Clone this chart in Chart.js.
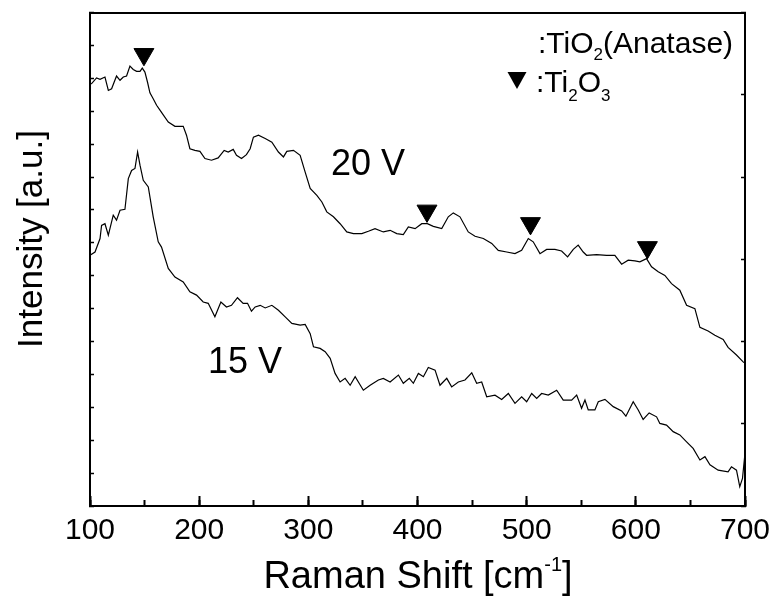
<!DOCTYPE html>
<html>
<head>
<meta charset="utf-8">
<script src="https://cdn.jsdelivr.net/npm/chart.js@4/dist/chart.umd.min.js"></script>
<style>
  html, body { margin: 0; padding: 0; background: #fff; }
  #wrap { width: 773px; height: 601px; }
</style>
</head>
<body>
<div id="wrap"><canvas id="c" width="773" height="601"></canvas></div>
<script>
// ---- data ----
const xTickValues = [100, 200, 300, 400, 500, 600, 700];

const ramanShift20 = [100,101.5,106.0,109.2,113.7,116.8,119.8,124.3,127.5,130.5,
  133.5,136.6,139.6,142.7,145.8,147.9,150.3,152.7,154.9,157.9,
  161.0,164.1,167.1,171.7,177.8,185.4,188.4,191.5,196.1,200.7,
  205.3,211.3,217.4,222.9,226.6,231.2,234.2,238.8,243.3,246.7,
  249.7,254.3,260.5,266.6,272.6,277.2,280.3,286.4,292.5,297.1,
  301.7,307.8,312.4,316.9,323.0,329.1,335.2,341.3,349.0,355.0,
  361.1,368.7,374.9,381.0,387.0,391.6,397.8,403.9,409.0,414.5,
  422.2,428.2,432.8,438.9,446.5,452.7,460.3,468.0,474.0,481.7,
  489.3,495.4,501.5,506.0,512.2,518.3,525.9,532.0,537.5,542.7,
  547.2,551.8,554.9,564.1,573.2,580.8,587.0,593.0,599.2,603.7,
  609.8,614.4,620.5,626.6,632.7,640.3,646.5,654.1,658.7,666.2,
  672.4,680.0,684.5,692.2,698.3,700];
const intensity20 = [12.82,12.84,13.01,12.97,13.04,12.63,12.68,13.07,12.94,13.04,
  13.07,13.37,13.27,13.21,13.21,13.31,13.19,12.88,12.56,12.38,
  12.18,12.03,11.89,11.67,11.54,11.54,11.27,10.86,10.81,10.78,
  10.56,10.51,10.58,10.81,10.76,10.84,10.66,10.56,10.68,10.86,
  11.21,11.27,11.17,11.06,10.76,10.61,10.78,10.81,10.66,10.15,
  9.65,9.44,9.24,8.94,8.79,8.58,8.33,8.28,8.28,8.35,
  8.43,8.33,8.38,8.28,8.25,8.48,8.43,8.58,8.58,8.50,
  8.43,8.79,8.91,8.79,8.33,8.20,8.13,7.98,7.77,7.72,
  7.67,7.77,8.13,8.03,7.67,7.80,7.80,7.75,7.57,7.80,
  7.93,7.72,7.62,7.64,7.62,7.62,7.35,7.47,7.45,7.42,
  7.52,7.27,7.12,7.01,6.76,6.56,6.10,6.00,5.43,5.32,
  5.19,5.06,4.82,4.59,4.38,4.34];

const ramanShift15 = [100,104.6,109.2,110.6,113.7,116.8,121.3,124.3,127.5,132.0,
  135.1,138.1,141.2,143.6,145.8,148.8,153.4,157.9,162.5,165.5,
  171.7,177.8,185.4,191.5,197.6,203.7,208.3,214.4,219.9,225.0,
  229.6,235.1,240.3,244.3,247.9,251.3,255.9,260.5,266.6,272.6,
  278.8,284.9,292.5,297.1,301.7,304.7,310.8,315.4,320.0,324.5,
  329.1,333.7,338.3,342.9,350.4,356.6,364.2,368.7,374.9,382.5,
  387.0,392.5,396.2,400.8,405.4,409.9,416.1,420.6,426.8,431.3,
  437.4,443.5,449.7,454.2,458.8,463.4,471.0,477.1,483.2,489.3,
  495.4,500.0,504.6,509.2,513.7,519.8,527.5,533.5,541.2,545.8,
  550.3,553.4,556.4,562.5,565.6,571.7,579.3,587.0,590.9,597.6,
  602.2,606.7,612.2,619.0,622.0,628.1,634.2,640.3,646.5,652.5,
  658.7,663.3,667.9,675.4,684.5,687.6,692.2,695.2,697.7,700];
const intensity15 = [7.62,7.72,8.13,8.53,8.58,8.23,8.84,8.69,8.99,9.02,
  9.95,10.20,10.26,10.76,10.36,9.90,9.70,8.79,8.03,7.87,
  7.22,6.96,6.81,6.51,6.41,6.20,6.16,5.75,6.20,6.05,
  6.10,6.33,6.16,6.16,5.92,6.05,6.10,6.02,6.10,5.95,
  5.75,5.55,5.50,5.52,5.24,4.84,4.79,4.69,4.49,4.03,
  3.77,3.88,3.67,3.93,3.52,3.67,3.83,3.88,3.77,3.98,
  3.73,3.88,3.73,4.03,3.93,4.21,4.13,3.67,3.88,3.62,
  3.77,3.83,4.05,3.73,3.77,3.32,3.37,3.24,3.42,3.12,
  3.32,3.17,3.42,3.27,3.42,3.37,3.52,3.22,3.22,3.37,
  2.97,3.22,2.92,2.92,3.17,3.24,3.02,2.89,2.73,3.17,
  2.92,2.63,2.83,2.71,2.51,2.46,2.26,2.16,1.95,1.75,
  1.40,1.50,1.25,1.09,1.04,1.19,1.09,0.59,0.84,1.61];

// Ti2O3 peak markers (inverted triangles)
const markerShift = [149.4, 408.7, 503.5, 610.6];
const markerIntensity = [13.73, 8.97, 8.59, 7.86];

const seriesLabels = ['20 V', '15 V'];

// ---- helpers ----
const FONT = '"Liberation Sans", Arial, Helvetica, sans-serif';
const toPts = (xs, ys) => xs.map((x, i) => ({ x: x, y: ys[i] }));

function drawRuns(ctx, x, baseline, runs, align) {
  let total = 0;
  runs.forEach(r => { ctx.font = r.size + 'px ' + FONT; r.w = ctx.measureText(r.t).width; total += r.w; });
  let cx = align === 'center' ? x - total / 2 : x;
  ctx.textAlign = 'left';
  ctx.textBaseline = 'alphabetic';
  runs.forEach(r => {
    ctx.font = r.size + 'px ' + FONT;
    ctx.fillText(r.t, cx, baseline + (r.dy || 0));
    cx += r.w;
  });
}

const textPlugin = {
  id: 'textPlugin',
  afterDraw(chart) {
    const ctx = chart.ctx;
    ctx.save();
    ctx.fillStyle = '#000';
    // y-axis title
    ctx.save();
    ctx.translate(42, 239);
    ctx.rotate(-Math.PI / 2);
    ctx.font = '35px ' + FONT;
    ctx.textAlign = 'center';
    ctx.textBaseline = 'alphabetic';
    ctx.fillText('Intensity [a.u.]', 0, 0);
    ctx.restore();
    // x-axis title with superscript
    drawRuns(ctx, 418, 588, [
      { t: 'Raman Shift [cm', size: 38 },
      { t: '-1', size: 20, dy: -17 },
      { t: ']', size: 38 }
    ], 'center');
    // series labels
    ctx.font = '36px ' + FONT;
    ctx.textAlign = 'left';
    ctx.fillText(seriesLabels[0], 331, 175);
    ctx.fillText(seriesLabels[1], 208, 373);
    // legend lines
    drawRuns(ctx, 538, 53, [
      { t: ':TiO', size: 30 },
      { t: '2', size: 17, dy: 7 },
      { t: '(Anatase)', size: 30 }
    ], 'left');
    drawRuns(ctx, 536, 92, [
      { t: ':Ti', size: 30 },
      { t: '2', size: 17, dy: 9 },
      { t: 'O', size: 30 },
      { t: '3', size: 17, dy: 9 }
    ], 'left');
    // legend triangle glyph
    ctx.beginPath();
    ctx.moveTo(507.5, 72);
    ctx.lineTo(526.5, 72);
    ctx.lineTo(517, 89);
    ctx.closePath();
    ctx.fill();
    ctx.restore();
  }
};

const zeroW = (s) => { s.width = 0; s.paddingTop = 0; s.paddingBottom = 0; };

new Chart(document.getElementById('c'), {
  type: 'line',
  data: {
    datasets: [
      {
        label: seriesLabels[0],
        data: toPts(ramanShift20, intensity20),
        borderColor: '#000', borderWidth: 1.2, pointRadius: 0, tension: 0, fill: false,
        xAxisID: 'x', yAxisID: 'y'
      },
      {
        label: seriesLabels[1],
        data: toPts(ramanShift15, intensity15),
        borderColor: '#000', borderWidth: 1.2, pointRadius: 0, tension: 0, fill: false,
        xAxisID: 'x', yAxisID: 'y'
      },
      {
        label: 'Ti2O3',
        data: toPts(markerShift, markerIntensity),
        showLine: false,
        pointStyle: 'triangle', pointRotation: 180, pointRadius: 11.5,
        pointBackgroundColor: '#000', pointBorderColor: '#000', pointBorderWidth: 1,
        xAxisID: 'x', yAxisID: 'y'
      }
    ]
  },
  options: {
    responsive: false,
    animation: false,
    devicePixelRatio: 1,
    layout: { padding: { left: 0, right: 28, top: 12, bottom: 0 } },
    plugins: { legend: { display: false }, tooltip: { enabled: false }, title: { display: false } },
    scales: {
      x: {
        type: 'linear', position: 'bottom', weight: 1,
        min: 100, max: 700,
        afterBuildTicks: (s) => { s.ticks = xTickValues.map(v => ({ value: v })); },
        ticks: {
          color: '#000', padding: 17, maxRotation: 0, autoSkip: false,
          font: { family: FONT, size: 30 },
          callback: (v) => String(v)
        },
        grid: { display: true, drawOnChartArea: false, drawTicks: true, tickLength: -10, tickColor: '#000', tickWidth: 2 },
        border: { display: true, color: '#000', width: 2 },
        afterFit: (s) => { s.height = 95; s.paddingLeft = 0; s.paddingRight = 0; }
      },
      x2: {
        type: 'linear', position: 'bottom', weight: 0,
        min: 100, max: 700,
        ticks: { display: false, stepSize: 50 },
        grid: { display: true, drawOnChartArea: false, drawTicks: true, tickLength: -6, tickColor: '#000', tickWidth: 2 },
        border: { display: false },
        afterFit: (s) => { s.height = 0; s.paddingLeft = 0; s.paddingRight = 0; }
      },
      xTop: {
        type: 'linear', position: 'top',
        min: 100, max: 700,
        ticks: { display: false },
        grid: { display: true, drawOnChartArea: false, drawTicks: false },
        border: { display: true, color: '#000', width: 2 },
        afterFit: (s) => { s.height = 0; s.paddingLeft = 0; s.paddingRight = 0; }
      },
      y: {
        type: 'linear', position: 'left',
        min: 0, max: 15,
        ticks: { display: false, stepSize: 1 },
        grid: { display: true, drawOnChartArea: false, drawTicks: true, tickLength: -4, tickColor: '#000', tickWidth: 1.5 },
        border: { display: true, color: '#000', width: 2 },
        afterFit: (s) => { s.width = 90; s.paddingTop = 0; s.paddingBottom = 0; }
      },
      y2: {
        type: 'linear', position: 'right',
        min: 0, max: 6,
        ticks: { display: false, stepSize: 1 },
        grid: { display: true, drawOnChartArea: false, drawTicks: true, tickLength: -4, tickColor: '#000', tickWidth: 1.5 },
        border: { display: true, color: '#000', width: 2 },
        afterFit: zeroW
      }
    }
  },
  plugins: [textPlugin]
});
</script>
</body>
</html>
